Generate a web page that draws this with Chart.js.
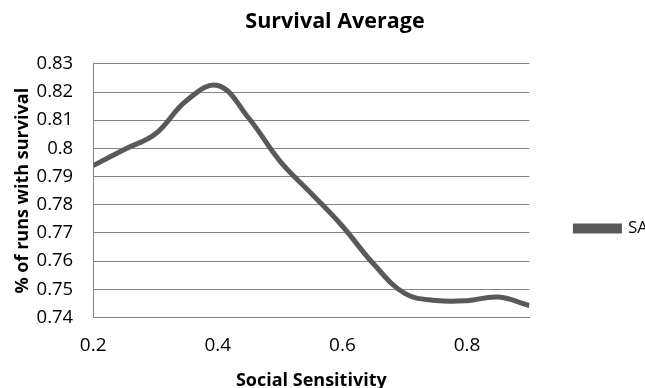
<!DOCTYPE html>
<html>
<head>
<meta charset="utf-8">
<script src="https://cdn.jsdelivr.net/npm/chart.js@4"></script>
<style>
  html, body { margin: 0; padding: 0; background: #fff; }
  #wrap { width: 645px; height: 388px; }
</style>
</head>
<body>
<div id="wrap"><canvas id="myChart"></canvas></div>
<script>
var sensitivity = [0.2, 0.25, 0.3, 0.35, 0.4, 0.45, 0.5, 0.55, 0.6, 0.65, 0.7, 0.75, 0.8, 0.85, 0.9];
var survival = [0.7939, 0.7996, 0.8052, 0.817, 0.8223, 0.8106, 0.7954, 0.784, 0.7724, 0.759, 0.7486, 0.7461, 0.746, 0.7473, 0.7443];

var font = "'Open Sans', sans-serif";
var points = sensitivity.map(function (x, i) { return { x: x, y: survival[i] }; });

var ctx = document.getElementById('myChart').getContext('2d');
var myChart = new Chart(ctx, {
    type: 'line',
    data: {
        datasets: [{
            label: 'SA',
            data: points,
            borderColor: '#595959',
            backgroundColor: '#595959',
            borderWidth: 5,
            pointRadius: 0,
            tension: 0.4,
            fill: false
        }]
    },
    options: {
        responsive: true,
        maintainAspectRatio: false,
        animation: false,
        layout: { padding: { top: 5, right: -13, bottom: -4, left: 12 } },
        plugins: {
            title: {
                display: true,
                text: 'Survival Average',
                color: '#000',
                font: { family: font, size: 21.5, weight: 'bold' },
                padding: { top: 4, bottom: 29 }
            },
            legend: {
                position: 'right',
                title: {
                    display: true,
                    text: ' ',
                    font: { family: font, size: 16 },
                    padding: { top: 20, bottom: 21 }
                },
                labels: {
                    color: '#000',
                    font: { family: font, size: 17 },
                    boxWidth: 44,
                    boxHeight: 5,
                    padding: 46
                }
            },
            tooltip: { enabled: false }
        },
        scales: {
            x: {
                type: 'linear',
                min: 0.2,
                max: 0.9,
                grid: { display: false, drawTicks: false },
                border: { color: '#868686', width: 1 },
                ticks: {
                    stepSize: 0.2,
                    includeBounds: false,
                    color: '#000',
                    padding: 17,
                    font: { family: font, size: 19 }
                },
                title: {
                    display: true,
                    text: 'Social Sensitivity',
                    color: '#000',
                    font: { family: font, size: 18, weight: 'bold' },
                    padding: { top: -4, bottom: 0 }
                }
            },
            y: {
                min: 0.74,
                max: 0.83,
                grid: { color: '#868686', lineWidth: 1, drawTicks: false },
                border: { color: '#868686', width: 1 },
                afterFit: function (scale) { scale.width -= 19; },
                ticks: {
                    stepSize: 0.01,
                    color: '#000',
                    padding: 20,
                    font: { family: font, size: 18.5 },
                    callback: function (v) { return +v.toFixed(2); }
                },
                title: {
                    display: true,
                    text: '% of runs with survival',
                    color: '#000',
                    font: { family: font, size: 18, weight: 'bold' },
                    padding: { top: 0, bottom: 2 }
                }
            }
        }
    }
});
</script>
</body>
</html>
